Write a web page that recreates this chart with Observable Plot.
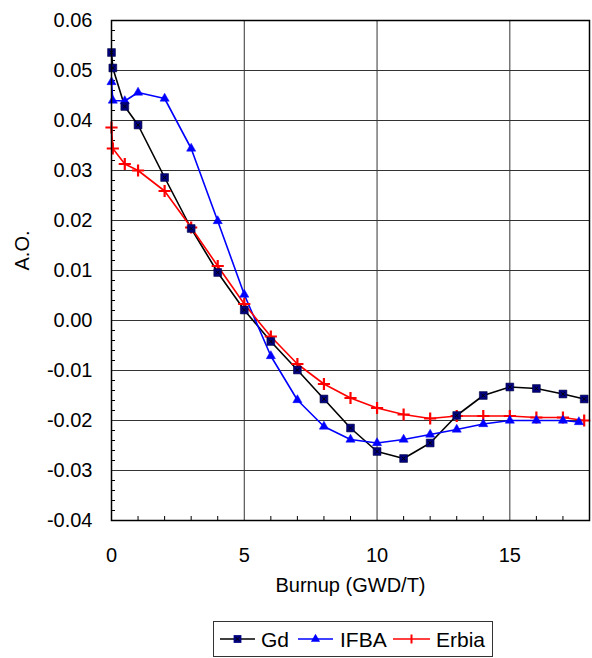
<!DOCTYPE html>
<html><head><meta charset="utf-8">
<script src="https://cdn.jsdelivr.net/npm/d3@7"></script>
<script src="https://cdn.jsdelivr.net/npm/@observablehq/plot@0.6"></script>
<style>
body{margin:0;background:#fff;font-family:"Liberation Sans",Arial,sans-serif;}
#chart{position:relative;width:592px;height:658px;}
#legend{position:absolute;left:213px;top:621px;width:280px;height:36px;border:1px solid #333;box-sizing:border-box;background:#fff}
</style></head><body><div id="chart"><div id="plot"></div><div id="legend"></div></div>
<script>
// Burnup (GWD/T) values for each series
const gdX    = [0, 0.05, 0.5, 1, 2, 3, 4, 5, 6, 7, 8, 9, 10, 11, 12, 13, 14, 15, 16, 17, 17.8];
const gdY    = [0.0536, 0.0505, 0.0428, 0.0391, 0.0286, 0.0184, 0.0096, 0.0021, -0.0042, -0.0099, -0.0157, -0.0215, -0.0262, -0.0276, -0.0245, -0.0190, -0.0150, -0.0133, -0.0136, -0.0147, -0.0157];
const ifbaX  = [0, 0.05, 0.5, 1, 2, 3, 4, 5, 6, 7, 8, 9, 10, 11, 12, 13, 14, 15, 16, 17, 17.6];
const ifbaY  = [0.0477, 0.0440, 0.0439, 0.0456, 0.0444, 0.0344, 0.0199, 0.0052, -0.0071, -0.0159, -0.0212, -0.0238, -0.0245, -0.0238, -0.0228, -0.0218, -0.0207, -0.0200, -0.0200, -0.0200, -0.0203];
const erbiaX = [0, 0.05, 0.5, 1, 2, 3, 4, 5, 6, 7, 8, 9, 10, 11, 12, 13, 14, 15, 16, 17, 17.8];
const erbiaY = [0.0386, 0.0344, 0.0313, 0.0300, 0.0259, 0.0186, 0.0109, 0.0033, -0.0032, -0.0087, -0.0127, -0.0155, -0.0175, -0.0188, -0.0196, -0.0191, -0.0191, -0.0191, -0.0194, -0.0194, -0.0200];

const seriesNames = ["Gd", "IFBA", "Erbia"];
const xTicks = [0, 5, 10, 15];
const xGrid = [5, 10, 15];
const yTicks = [-0.04, -0.03, -0.02, -0.01, 0, 0.01, 0.02, 0.03, 0.04, 0.05, 0.06];
const xMinor = d3.range(1, 18).filter(v => v % 5 !== 0);
const yMinor = d3.range(-40, 61, 2).filter(v => v % 10 !== 0).map(v => v / 1000);
const xLabel = "Burnup (GWD/T)";
const yLabel = "A.O.";

const toRows = (xs, ys) => xs.map((x, i) => ({x, y: ys[i]}));
const gd = toRows(gdX, gdY), ifba = toRows(ifbaX, ifbaY), erbia = toRows(erbiaX, erbiaY);

const font = '"Liberation Sans", Arial, sans-serif';
const chart = Plot.plot({
  width: 592, height: 612,
  marginLeft: 111, marginRight: 3, marginTop: 20, marginBottom: 92,
  x: {domain: [0, 18]},
  y: {domain: [-0.04, 0.06]},
  style: {fontFamily: font, fontSize: "20px", color: "#000", background: "#fff"},
  marks: [
    Plot.ruleY(yTicks, {stroke: "#333", strokeWidth: 1}),
    Plot.ruleX(xGrid, {stroke: "#333", strokeWidth: 1}),
    Plot.ruleY(yMinor, {y: d => d, x1: 0, x2: 0.15, stroke: "#000"}),
    Plot.ruleX(xMinor, {x: d => d, y1: -0.04, y2: -0.0392, stroke: "#000"}),
    Plot.axisY({ticks: yTicks, tickSize: 0, tickPadding: 19, tickFormat: d => d.toFixed(2), fontSize: 20, label: null}),
    Plot.axisX({ticks: xTicks, tickSize: 0, tickPadding: 27, tickFormat: d => String(d), fontSize: 20, label: null}),
    Plot.text([yLabel], {frameAnchor: "left", dx: -89, rotate: -90, fontSize: 20, fill: "#000"}),
    Plot.text([xLabel], {frameAnchor: "bottom", dy: 71, fontSize: 20, fill: "#000"}),
    Plot.line(gd, {x: "x", y: "y", stroke: "#000", strokeWidth: 1.6}),
    Plot.line(ifba, {x: "x", y: "y", stroke: "#0000ff", strokeWidth: 1.6}),
    Plot.line(erbia, {x: "x", y: "y", stroke: "#ff0000", strokeWidth: 1.6}),
    Plot.dot(erbia, {x: "x", y: "y", symbol: "plus", r: 4, stroke: "#ff0000", strokeWidth: 2.2}),
    Plot.dot(ifba, {x: "x", y: "y", symbol: "triangle", r: 3.4, fill: "#0000ff", stroke: "#0000ff", strokeWidth: 0.5}),
    Plot.dot(gd, {x: "x", y: "y", symbol: "square", r: 4.4, fill: "#000080", stroke: "#000040", strokeWidth: 0.6}),
    Plot.dot(gd, {x: "x", y: "y", symbol: "times", r: 1.8, stroke: "#000", strokeWidth: 1}),
    Plot.frame({stroke: "#000", strokeWidth: 1.5})
  ]
});
document.getElementById("plot").appendChild(chart);

// Legend
const lg = d3.select("#legend").append("svg").attr("width", 278).attr("height", 34)
  .style("display", "block").style("font-family", font);
const items = [
  {name: seriesNames[0], color: "#000", x0: 6, x1: 41, tx: 47, sym: "square"},
  {name: seriesNames[1], color: "#0000ff", x0: 84, x1: 119, tx: 126, sym: "triangle"},
  {name: seriesNames[2], color: "#ff0000", x0: 179, x1: 216, tx: 222, sym: "plus"}
];
const ly = 17;
for (const it of items) {
  lg.append("line").attr("x1", it.x0).attr("x2", it.x1).attr("y1", ly).attr("y2", ly)
    .attr("stroke", it.color).attr("stroke-width", 1.6);
  const cx = (it.x0 + it.x1) / 2;
  if (it.sym === "square") {
    lg.append("path").attr("transform", `translate(${cx},${ly})`)
      .attr("d", d3.symbol(d3.symbolSquare, Math.PI * 4.4 * 4.4)()).attr("fill", "#000080");
    lg.append("path").attr("transform", `translate(${cx},${ly})`)
      .attr("d", d3.symbol(d3.symbolTimes, Math.PI * 1.8 * 1.8)()).attr("fill", "none").attr("stroke", "#000");
  } else if (it.sym === "triangle") {
    lg.append("path").attr("transform", `translate(${cx},${ly})`)
      .attr("d", d3.symbol(d3.symbolTriangle, Math.PI * 3.4 * 3.4)()).attr("fill", "#0000ff");
  } else {
    lg.append("line").attr("x1", cx).attr("x2", cx).attr("y1", ly - 4.5).attr("y2", ly + 4.5)
      .attr("stroke", "#ff0000").attr("stroke-width", 2);
  }
  lg.append("text").attr("x", it.tx).attr("y", 24.5).attr("font-size", 21).attr("fill", "#000").text(it.name);
}
</script></body></html>
